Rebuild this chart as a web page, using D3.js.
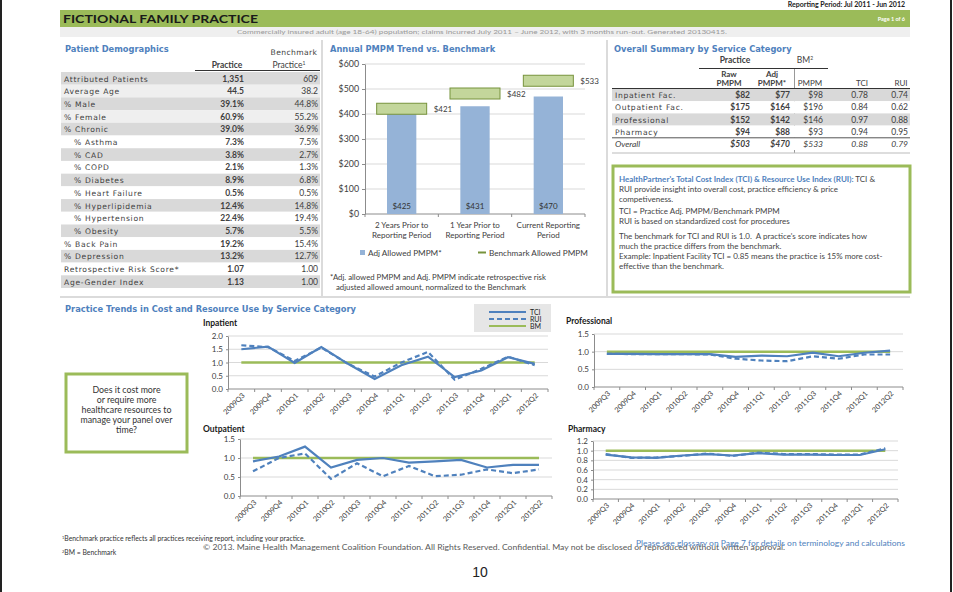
<!DOCTYPE html>
<html lang="en">
<head>
<meta charset="utf-8">
<title>Fictional Family Practice</title>
<script src="https://d3js.org/d3.v7.min.js"></script>
<style type="text/css">
    body { margin: 0; background: #fff; }
    svg { display: block; }
    .ttl { font-family: "DejaVu Sans", sans-serif; font-weight: bold; font-size: 8.3px; fill: #4f81bd; }
    .lbl { font-family: "DejaVu Sans", sans-serif; font-size: 7.6px; fill: #404040; letter-spacing: 0.7px; }
    .cal { font-family: Lato, "Open Sans", sans-serif; fill: #404040; }
    .axis path, .axis line { stroke: #8c8c8c; }
    .axis text { font-family: Lato, sans-serif; font-size: 8px; fill: #404040; }
</style>
</head>
<body>
<script type="text/javascript">

// ---- data ----
const demoLabels = ["Attributed Patients", "Average Age", "% Male", "% Female", "% Chronic",
    "% Asthma", "% CAD", "% COPD", "% Diabetes", "% Heart Failure", "% Hyperlipidemia",
    "% Hypertension", "% Obesity", "% Back Pain", "% Depression", "Retrospective Risk Score*", "Age-Gender Index"];
const demoIndented = ["% Asthma", "% CAD", "% COPD", "% Diabetes", "% Heart Failure",
    "% Hyperlipidemia", "% Hypertension", "% Obesity"];
const demoPractice = ["1,351", "44.5", "39.1%", "60.9%", "39.0%", "7.3%", "3.8%", "2.1%", "8.9%",
    "0.5%", "12.4%", "22.4%", "5.7%", "19.2%", "13.2%", "1.07", "1.13"];
const demoBenchmark = ["609", "38.2", "44.8%", "55.2%", "36.9%", "7.5%", "2.7%", "1.3%", "6.8%",
    "0.5%", "14.8%", "19.4%", "5.5%", "15.4%", "12.7%", "1.00", "1.00"];

const pmpmPeriods = ["2 Years Prior to|Reporting Period", "1 Year Prior to|Reporting Period", "Current Reporting|Period"];
const adjPmpm = [425, 431, 470];
const benchPmpm = [421, 482, 533];

const summaryCats = ["Inpatient Fac.", "Outpatient Fac.", "Professional", "Pharmacy", "Overall"];
const summaryRaw = ["$82", "$175", "$152", "$94", "$503"];
const summaryAdj = ["$77", "$164", "$142", "$88", "$470"];
const summaryBm = ["$98", "$196", "$146", "$93", "$533"];
const summaryTci = ["0.78", "0.84", "0.97", "0.94", "0.88"];
const summaryRui = ["0.74", "0.62", "0.88", "0.95", "0.79"];

const quarters = ["2009Q3", "2009Q4", "2010Q1", "2010Q2", "2010Q3", "2010Q4",
    "2011Q1", "2011Q2", "2011Q3", "2011Q4", "2012Q1", "2012Q2"];
const inpatientTci = [1.5, 1.6, 0.98, 1.58, 0.95, 0.38, 0.9, 1.22, 0.45, 0.7, 1.2, 0.95];
const inpatientRui = [1.65, 1.58, 1.06, 1.56, 0.95, 0.47, 1.0, 1.4, 0.35, 0.76, 1.22, 0.9];
const professionalTci = [0.94, 0.94, 0.93, 0.93, 0.93, 0.85, 0.89, 0.87, 0.97, 0.87, 0.97, 1.03];
const professionalRui = [0.94, 0.93, 0.93, 0.93, 0.92, 0.8, 0.75, 0.73, 0.87, 0.8, 0.92, 0.92];
const outpatientTci = [0.91, 1.04, 1.3, 0.75, 0.95, 1.0, 0.88, 0.91, 0.95, 0.75, 0.82, 0.82];
const outpatientRui = [0.65, 1.0, 1.12, 0.45, 0.86, 0.52, 0.79, 0.52, 0.56, 0.7, 0.6, 0.7];
const pharmacyTci = [0.92, 0.86, 0.85, 0.9, 0.93, 0.9, 0.95, 0.92, 0.92, 0.91, 0.91, 1.03];
const pharmacyRui = [0.93, 0.85, 0.86, 0.89, 0.94, 0.89, 0.96, 0.93, 0.93, 0.92, 0.92, 1.05];

const blue = "#4f81bd", green = "#9bbb59";

const svg = d3.select("body").append("svg")
    .attr("width", 953)
    .attr("height", 592);

// page frame
svg.append("line").attr("x1", 1).attr("x2", 1).attr("y1", 0).attr("y2", 592).attr("stroke", "#222").attr("stroke-width", 2);
svg.append("line").attr("x1", 951).attr("x2", 951).attr("y1", 0).attr("y2", 592).attr("stroke", "#222").attr("stroke-width", 2);

// ---- header ----
svg.append("text").attr("class", "cal").attr("x", 905).attr("y", 7).attr("text-anchor", "end")
    .style("font-size", "7px").style("font-weight", "bold").style("fill", "#222")
    .text("Reporting Period: Jul 2011 - Jun 2012");
svg.append("rect").attr("x", 60).attr("y", 10).attr("width", 850).attr("height", 17).attr("fill", green);
svg.append("text").attr("class", "cal").attr("x", 63).attr("y", 23)
    .style("font-size", "12px").style("font-weight", "bold").style("fill", "#1a1a1a")
    .attr("textLength", 195).attr("lengthAdjust", "spacingAndGlyphs")
    .text("FICTIONAL FAMILY PRACTICE");
svg.append("text").attr("class", "cal").attr("x", 905).attr("y", 21).attr("text-anchor", "end")
    .style("font-size", "5.5px").style("font-weight", "bold").style("fill", "#fff").text("Page 1 of 6");
svg.append("rect").attr("x", 60).attr("y", 27).attr("width", 850).attr("height", 10).attr("fill", "#efefef");
svg.append("text").attr("class", "cal").attr("x", 482).attr("y", 34).attr("text-anchor", "middle")
    .style("font-size", "6px").style("fill", "#999")
    .attr("textLength", 490).attr("lengthAdjust", "spacingAndGlyphs")
    .text("Commercially insured adult (age 18-64) population; claims incurred July 2011 \u2013 June 2012, with 3 months run-out.  Generated 20130415.");

// panel dividers
const divider = (x1, y1, x2, y2) => svg.append("line")
    .attr("x1", x1).attr("y1", y1).attr("x2", x2).attr("y2", y2)
    .attr("stroke", "#cfcfcf").attr("stroke-width", 1.5);
divider(322, 40, 322, 296);
divider(607, 40, 607, 296);
divider(60, 297, 910, 297);

// ---- patient demographics ----
svg.append("text").attr("class", "ttl").attr("x", 65).attr("y", 52).text("Patient Demographics");
svg.append("text").attr("class", "lbl").attr("x", 294).attr("y", 55).attr("text-anchor", "middle")
    .style("letter-spacing", "0.4px").text("Benchmark");
svg.append("text").attr("class", "cal").attr("x", 227).attr("y", 68).attr("text-anchor", "middle")
    .style("font-size", "8.5px").style("font-weight", "bold").text("Practice");
svg.append("text").attr("class", "cal").attr("x", 289).attr("y", 68).attr("text-anchor", "middle")
    .style("font-size", "8.5px").html("Practice<tspan dy='-3' font-size='5px'>1</tspan>");
svg.append("line").attr("x1", 195).attr("x2", 320).attr("y1", 70.5).attr("y2", 70.5).attr("stroke", "#333");

const rowY = d3.scaleBand().domain(demoLabels).range([72, 288]);
const demo = svg.append("g").selectAll("g").data(demoLabels).join("g")
    .attr("transform", d => `translate(0,${rowY(d)})`);
demo.append("rect").attr("x", 61).attr("width", 259).attr("height", rowY.bandwidth())
    .attr("fill", (d, i) => i % 2 === 0 ? "#d9d9d9" : (i < 5 ? "#efefef" : "#fff"));
demo.append("text").attr("class", "lbl").attr("y", 9.5)
    .attr("x", d => demoIndented.includes(d) ? 74 : 64).text(d => d);
demo.append("text").attr("class", "cal").attr("x", 244).attr("y", 9.5).attr("text-anchor", "end")
    .style("font-size", "8.5px").style("font-weight", "bold").text((d, i) => demoPractice[i]);
demo.append("text").attr("class", "cal").attr("x", 318).attr("y", 9.5).attr("text-anchor", "end")
    .style("font-size", "8.5px").text((d, i) => demoBenchmark[i]);

// ---- annual PMPM bar chart ----
svg.append("text").attr("class", "ttl").attr("x", 330).attr("y", 52).text("Annual PMPM Trend vs. Benchmark");

const xBar = d3.scaleBand().domain(pmpmPeriods).range([365, 585]).paddingInner(0.6).paddingOuter(0.3);
const yBar = d3.scaleLinear().domain([0, 600]).range([214, 64]);

svg.append("g").selectAll("line").data(yBar.ticks(6).slice(1)).join("line")
    .attr("x1", 365).attr("x2", 585).attr("y1", d => yBar(d)).attr("y2", d => yBar(d))
    .attr("stroke", "#d9d9d9");
svg.append("g").attr("class", "axis").attr("transform", "translate(365,0)")
    .call(d3.axisLeft(yBar).ticks(6).tickFormat(d => "$" + d).tickSize(3).tickSizeOuter(0))
    .selectAll("text").style("font-size", "8.8px");
svg.append("line").attr("x1", 365).attr("x2", 585).attr("y1", 214).attr("y2", 214).attr("stroke", "#8c8c8c");
svg.append("g").selectAll("line").data(d3.range(4)).join("line")
    .attr("x1", i => 365 + i * xBar.step()).attr("x2", i => 365 + i * xBar.step())
    .attr("y1", 214).attr("y2", 217).attr("stroke", "#8c8c8c");

svg.append("g").selectAll("rect").data(pmpmPeriods).join("rect")
    .attr("x", d => xBar(d)).attr("width", xBar.bandwidth())
    .attr("y", (d, i) => yBar(adjPmpm[i])).attr("height", (d, i) => 214 - yBar(adjPmpm[i]))
    .attr("fill", "#95b3d7");
svg.append("g").selectAll("text").data(pmpmPeriods).join("text")
    .attr("class", "cal").attr("x", d => xBar(d) + xBar.bandwidth() / 2).attr("y", 209)
    .attr("text-anchor", "middle").style("font-size", "8px").style("fill", "#333")
    .text((d, i) => "$" + adjPmpm[i]);
svg.append("g").selectAll("rect").data(pmpmPeriods).join("rect")
    .attr("x", d => xBar(d) + xBar.bandwidth() / 2 - 25).attr("width", 50)
    .attr("y", (d, i) => yBar(benchPmpm[i]) - 5.5).attr("height", 11)
    .attr("fill", "#c3d69b").attr("stroke", "#77933c");
svg.append("g").selectAll("text").data(pmpmPeriods).join("text")
    .attr("class", "cal").attr("x", d => xBar(d) + xBar.bandwidth() / 2 + 32)
    .attr("y", (d, i) => yBar(benchPmpm[i]) + 3).style("font-size", "8px")
    .text((d, i) => "$" + benchPmpm[i]);
const xLab = svg.append("g").selectAll("text").data(pmpmPeriods).join("text")
    .attr("class", "cal").attr("text-anchor", "middle").style("font-size", "8px")
    .attr("x", d => xBar(d) + xBar.bandwidth() / 2).attr("y", 228);
xLab.selectAll("tspan").data(d => d.split("|")).join("tspan")
    .attr("x", function () { return this.parentNode.getAttribute("x"); })
    .attr("dy", (d, i) => i ? 9.5 : 0).text(d => d);

// legend
svg.append("rect").attr("x", 360).attr("y", 250).attr("width", 5).attr("height", 5).attr("fill", "#95b3d7");
svg.append("text").attr("class", "cal").attr("x", 368).attr("y", 255.5).style("font-size", "8.2px").text("Adj Allowed PMPM*");
svg.append("line").attr("x1", 478).attr("x2", 486).attr("y1", 252.5).attr("y2", 252.5).attr("stroke", "#77933c").attr("stroke-width", 2);
svg.append("text").attr("class", "cal").attr("x", 489).attr("y", 255.5).style("font-size", "8.2px").text("Benchmark Allowed PMPM");
svg.append("text").attr("class", "cal").attr("x", 330).attr("y", 280).style("font-size", "7.8px")
    .text("*Adj. allowed PMPM and Adj. PMPM indicate retrospective risk");
svg.append("text").attr("class", "cal").attr("x", 336).attr("y", 289.5).style("font-size", "7.8px")
    .text("adjusted allowed amount, normalized to the Benchmark");

// ---- overall summary table ----
svg.append("text").attr("class", "ttl").attr("x", 614).attr("y", 52).text("Overall Summary by Service Category");
svg.append("text").attr("class", "cal").attr("x", 735).attr("y", 63).attr("text-anchor", "middle")
    .style("font-size", "8.5px").style("font-weight", "bold").text("Practice");
svg.append("text").attr("class", "cal").attr("x", 805).attr("y", 63).attr("text-anchor", "middle")
    .style("font-size", "8.5px").html("BM<tspan dy='-3' font-size='5px'>2</tspan>");
svg.append("line").attr("x1", 699).attr("x2", 828).attr("y1", 68.5).attr("y2", 68.5).attr("stroke", "#333");
svg.append("line").attr("x1", 794.5).attr("x2", 794.5).attr("y1", 69).attr("y2", 153).attr("stroke", "#999");

const sumCols = [
    { x: 750, hx: 729, head: ["Raw", "PMPM"], vals: summaryRaw, bold: true },
    { x: 790, hx: 772, head: ["Adj", "PMPM*"], vals: summaryAdj, bold: true },
    { x: 823, hx: 810, head: ["", "PMPM"], vals: summaryBm, bold: false },
    { x: 868, hx: 862, head: ["", "TCI"], vals: summaryTci, bold: false },
    { x: 908, hx: 901, head: ["", "RUI"], vals: summaryRui, bold: false }
];
sumCols.forEach(c => {
    c.head.forEach((h, hi) => {
        svg.append("text").attr("class", "cal").attr("x", c.hx)
            .attr("y", 77 + hi * 9).attr("text-anchor", "middle").style("font-size", "8px")
            .style("font-weight", c.bold ? "bold" : "normal").text(h);
    });
});
svg.append("line").attr("x1", 612).attr("x2", 910).attr("y1", 88.5).attr("y2", 88.5).attr("stroke", "#333");

const sumY = d3.scaleBand().domain(summaryCats).range([89, 150]);
const sumRows = svg.append("g").selectAll("g").data(summaryCats).join("g")
    .attr("transform", d => `translate(0,${sumY(d)})`);
sumRows.append("rect").attr("x", 612).attr("width", 298).attr("height", sumY.bandwidth())
    .attr("fill", (d, i) => i % 2 === 0 && i < 4 ? "#d9d9d9" : "#fff");
sumRows.append("text").attr("y", 9.2)
    .attr("class", d => d === "Overall" ? "cal" : "lbl")
    .attr("x", 615).style("font-style", d => d === "Overall" ? "italic" : "normal")
    .style("font-size", d => d === "Overall" ? "8.5px" : "7.6px").text(d => d);
sumCols.forEach(c => {
    sumRows.append("text").attr("class", "cal").attr("x", c.x).attr("y", 9.2).attr("text-anchor", "end")
        .style("font-size", "8.5px").style("font-weight", c.bold ? "bold" : "normal")
        .style("font-style", d => d === "Overall" ? "italic" : "normal")
        .text((d, i) => c.vals[i]);
});
svg.append("line").attr("x1", 612).attr("x2", 910).attr("y1", sumY("Overall")).attr("y2", sumY("Overall")).attr("stroke", "#555");
svg.append("line").attr("x1", 612).attr("x2", 910).attr("y1", 153).attr("y2", 153).attr("stroke", "#bbb");

// TCI / RUI explanation box
svg.append("rect").attr("x", 613).attr("y", 166).attr("width", 297).attr("height", 126)
    .attr("fill", "#fff").attr("stroke", green).attr("stroke-width", 3);
const boxLines = [
    [182, "<tspan fill='#4f81bd' font-weight='bold'>HealthPartner's Total Cost Index (TCI) &amp; Resource Use Index (RUI):</tspan> TCI &amp;"],
    [192, "RUI provide insight into overall cost, practice efficiency &amp; price"],
    [202, "competiveness."],
    [214, "TCI = Practice Adj. PMPM/Benchmark PMPM"],
    [224, "RUI is based on standardized cost for procedures"],
    [239, "The benchmark for TCI and RUI is 1.0.  A practice's score indicates how"],
    [249, "much the practice differs from the benchmark."],
    [259, "Example: Inpatient Facility TCI = 0.85 means the practice is 15% more cost-"],
    [269, "effective than the benchmark."]
];
svg.append("g").selectAll("text").data(boxLines).join("text")
    .attr("class", "cal").attr("x", 619).attr("y", d => d[0])
    .style("font-size", "8px").style("fill", "#444").style("white-space", "pre")
    .html(d => d[1]);

// ---- practice trends ----
svg.append("text").attr("class", "ttl").attr("x", 65).attr("y", 312)
    .text("Practice Trends in Cost and Resource Use by Service Category");

// legend box
svg.append("rect").attr("x", 474).attr("y", 304).attr("width", 77).attr("height", 28).attr("fill", "#e6e6e6");
[["TCI", null, blue], ["RUI", "5,3", blue], ["BM", null, green]].forEach((l, i) => {
    svg.append("line").attr("x1", 489).attr("x2", 526).attr("y1", 312 + i * 7).attr("y2", 312 + i * 7)
        .attr("stroke", l[2]).attr("stroke-width", 2).attr("stroke-dasharray", l[1]);
    svg.append("text").attr("class", "cal").attr("x", 530).attr("y", 314.5 + i * 7)
        .style("font-size", "7px").style("fill", "#222").text(l[0]);
});

// question box
svg.append("rect").attr("x", 66).attr("y", 374).attr("width", 121).attr("height", 78)
    .attr("fill", "#fff").attr("stroke", green).attr("stroke-width", 3);
svg.append("g").selectAll("text")
    .data(["Does it cost more", "or require more", "healthcare resources to", "manage your panel over", "time?"])
    .join("text").attr("class", "cal").attr("x", 126.5).attr("y", (d, i) => 393 + i * 10)
    .attr("text-anchor", "middle").style("font-size", "8.8px").style("fill", "#333").text(d => d);

function trendChart(title, tx, ty, x0, x1, y0, y1, max, step, tci, rui) {
    const g = svg.append("g");
    const x = d3.scalePoint().domain(quarters).range([x0, x1]).padding(0.5);
    const y = d3.scaleLinear().domain([0, max]).range([y0, y1]);
    const ticks = d3.range(0, max + step / 2, step);

    g.append("text").attr("class", "cal").attr("x", tx).attr("y", ty)
        .style("font-size", "8.5px").style("font-weight", "bold").style("fill", "#1a1a1a").text(title);

    g.append("g").selectAll("line").data(ticks.slice(1)).join("line")
        .attr("x1", x0).attr("x2", x1).attr("y1", d => y(d)).attr("y2", d => y(d))
        .attr("stroke", "#d9d9d9");
    g.append("g").attr("class", "axis").attr("transform", `translate(${x0},0)`)
        .call(d3.axisLeft(y).tickValues(ticks).tickFormat(d3.format(".1f")).tickSize(2).tickSizeOuter(0));
    g.append("line").attr("x1", x0).attr("x2", x1).attr("y1", y0).attr("y2", y0).attr("stroke", "#8c8c8c");
    g.append("g").selectAll("line").data(d3.range(13)).join("line")
        .attr("x1", i => x0 + i * x.step()).attr("x2", i => x0 + i * x.step())
        .attr("y1", y0).attr("y2", y0 + 3).attr("stroke", "#8c8c8c");
    g.append("g").selectAll("text").data(quarters).join("text")
        .attr("class", "cal").attr("text-anchor", "end").style("font-size", "7.3px")
        .attr("transform", d => `translate(${x(d) + 4},${y0 + 7}) rotate(-45)`).text(d => d);

    const line = d3.line().x((d, i) => x(quarters[i])).y(d => y(d));
    g.append("path").datum(quarters.map(() => 1)).attr("d", line)
        .attr("fill", "none").attr("stroke", green).attr("stroke-width", 2.5);
    g.append("path").datum(tci).attr("d", line)
        .attr("fill", "none").attr("stroke", blue).attr("stroke-width", 2.2);
    g.append("path").datum(rui).attr("d", line)
        .attr("fill", "none").attr("stroke", blue).attr("stroke-width", 2.2).attr("stroke-dasharray", "5,3");
}

trendChart("Inpatient", 203, 326, 228, 548, 389, 336, 2.0, 0.5, inpatientTci, inpatientRui);
trendChart("Professional", 566, 324, 594, 903, 387, 334, 1.5, 0.5, professionalTci, professionalRui);
trendChart("Outpatient", 203, 432, 240, 552, 496, 439, 1.5, 0.5, outpatientTci, outpatientRui);
trendChart("Pharmacy", 568, 432, 593, 898, 499, 441, 1.2, 0.2, pharmacyTci, pharmacyRui);

// ---- footer ----
svg.append("text").attr("class", "cal").attr("x", 62).attr("y", 541).style("font-size", "6.8px").style("fill", "#333")
    .html("<tspan dy='-2' font-size='4px'>1</tspan><tspan dy='2'>Benchmark practice reflects all practices receiving report, including your practice.</tspan>");
svg.append("text").attr("class", "cal").attr("x", 62).attr("y", 555).style("font-size", "6.8px").style("fill", "#333")
    .html("<tspan dy='-2' font-size='4px'>2</tspan><tspan dy='2'>BM = Benchmark</tspan>");
svg.append("text").attr("class", "cal").attr("x", 203).attr("y", 550).style("font-size", "6.8px").style("fill", "#595959")
    .attr("textLength", 582).attr("lengthAdjust", "spacingAndGlyphs")
    .text("\u00a9 2013. Maine Health Management Coalition Foundation.  All Rights Reserved.  Confidential.  May not be disclosed or reproduced without written approval.");
svg.append("text").attr("class", "cal").attr("x", 905).attr("y", 546).attr("text-anchor", "end")
    .style("font-size", "6.8px").style("fill", blue)
    .attr("textLength", 269).attr("lengthAdjust", "spacingAndGlyphs")
    .text("Please see glossary on Page 7 for details on terminology and calculations");
svg.append("text").attr("x", 480).attr("y", 577).attr("text-anchor", "middle")
    .style("font-family", "'Liberation Sans Narrow', 'Liberation Sans', sans-serif").style("font-size", "14px")
    .attr("fill", "#222").text("10");

</script>
</body>
</html>
